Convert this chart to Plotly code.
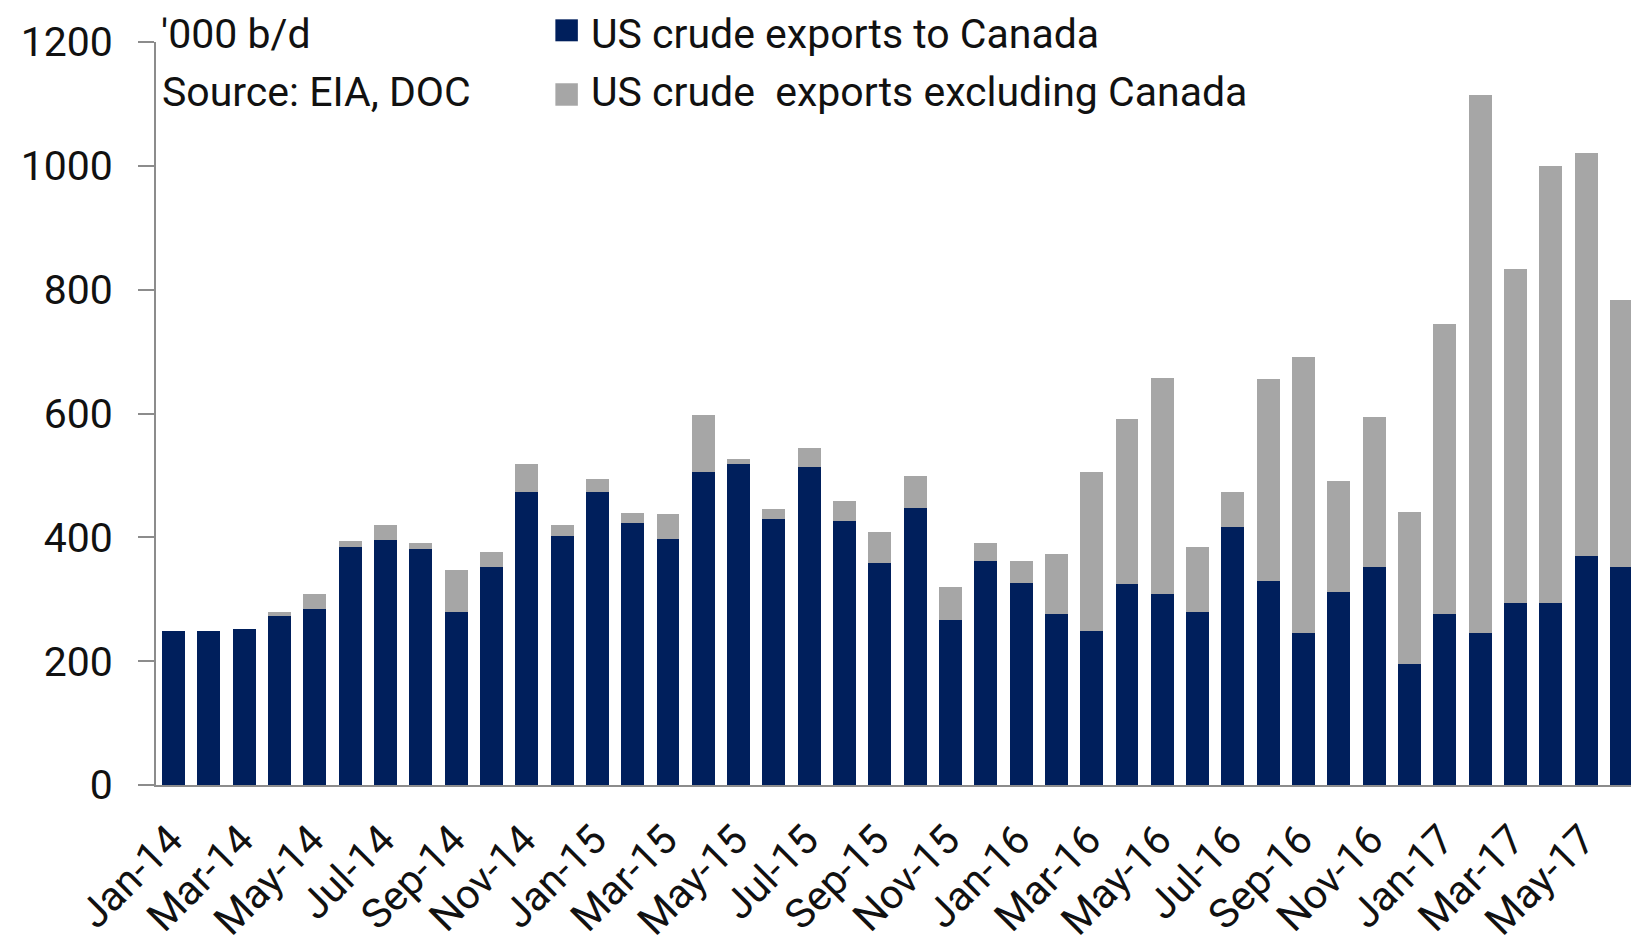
import plotly.graph_objects as go

months = [f"{m}-{y}" for y in ["14", "15", "16", "17"]
          for m in ["Jan", "Feb", "Mar", "Apr", "May", "Jun", "Jul", "Aug", "Sep", "Oct", "Nov", "Dec"]][:42]

to_canada = [248, 248, 252, 273, 284, 384, 395, 381, 280, 352, 473, 402,
             473, 423, 398, 505, 519, 430, 513, 427, 359, 448, 266, 362,
             327, 276, 248, 324, 309, 280, 416, 330, 245, 312, 352, 195,
             276, 245, 294, 294, 370, 352]
total = [248, 248, 252, 280, 309, 394, 420, 391, 348, 376, 519, 420,
         494, 440, 437, 598, 527, 445, 544, 459, 408, 499, 319, 391,
         362, 373, 505, 591, 658, 384, 473, 655, 691, 491, 594, 441,
         744, 1114, 834, 1000, 1021, 784]
excl_canada = [t - c for t, c in zip(total, to_canada)]

series_names = ["US crude exports to Canada", "US crude  exports excluding Canada"]
tick_labels = months[::2]
y_ticks = [0, 200, 400, 600, 800, 1000, 1200]

FONT = "Roboto"
FS = 41
NAVY = "#001F5C"
GREY = "#A6A6A6"
AXIS = "#8C8C8C"
TXT = "#111111"

# the page body adds an 8px margin, so the figure is 8px smaller than the window
W, H = 1631, 939
ML, MR, MT, MB = 147.5, 0, 33.7, 161.5
PW, PH = W - ML - MR, H - MT - MB


def px_x(fx):
    return (fx - ML) / PW


def px_y(fy):
    return 1 - (fy - MT) / PH


fig = go.Figure()
fig.add_trace(go.Bar(x=months, y=to_canada, name=series_names[0],
                     marker=dict(color=NAVY, line=dict(width=0)), showlegend=False))
fig.add_trace(go.Bar(x=months, y=excl_canada, name=series_names[1],
                     marker=dict(color=GREY, line=dict(width=0)), showlegend=False))

fig.update_layout(
    barmode="stack",
    bargap=0.35,
    width=W, height=H,
    margin=dict(l=ML, r=MR, t=MT, b=MB, autoexpand=False),
    paper_bgcolor="white", plot_bgcolor="white",
    font=dict(family=FONT, size=FS, color=TXT),
    showlegend=False,
    xaxis=dict(type="category", categoryorder="array", categoryarray=months,
               tickmode="array", tickvals=tick_labels, ticktext=tick_labels,
               tickangle=-45, ticks="", showline=True, linecolor=AXIS, linewidth=2,
               showgrid=False, zeroline=False, automargin=False,
               ticklabelstandoff=12, ticklabelshift=-3,
               tickfont=dict(family=FONT, size=FS, color=TXT)),
    yaxis=dict(range=[0, 1200], tickmode="array", tickvals=y_ticks,
               ticks="outside", ticklen=16, tickwidth=2, tickcolor=AXIS,
               showline=True, linecolor=AXIS, linewidth=2, automargin=False,
               showgrid=False, zeroline=False, ticklabelstandoff=17,
               tickfont=dict(family=FONT, size=FS, color=TXT)),
)

# legend drawn as swatches + text (square swatches as in the reference)
legend_rows = [(NAVY, series_names[0], 11, 33, 25.5), (GREY, series_names[1], 75, 97.5, 84)]
for color, label, y0, y1, yc in legend_rows:
    fig.add_shape(type="rect", xref="paper", yref="paper",
                  x0=px_x(547), x1=px_x(569.5), y0=px_y(y1), y1=px_y(y0),
                  fillcolor=color, line=dict(width=0), layer="above")
    fig.add_annotation(text=label, xref="paper", yref="paper",
                       x=px_x(581), y=px_y(yc), xanchor="left", yanchor="middle",
                       showarrow=False, font=dict(family=FONT, size=FS, color=TXT))

fig.add_annotation(text="'000 b/d", xref="paper", yref="paper",
                   x=3 / PW, y=1.0 + (MT - 26) / PH, xanchor="left", yanchor="middle",
                   showarrow=False, font=dict(family=FONT, size=FS, color=TXT))
fig.add_annotation(text="Source: EIA, DOC", xref="paper", yref="paper",
                   x=4.5 / PW, y=1.0 - (84 - MT) / PH, xanchor="left", yanchor="middle",
                   showarrow=False, font=dict(family=FONT, size=FS, color=TXT))

fig.write_html("out.html")
